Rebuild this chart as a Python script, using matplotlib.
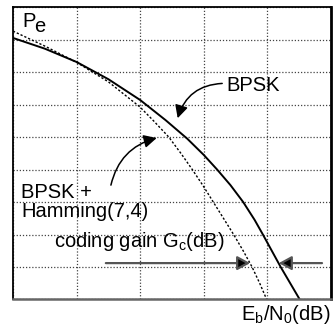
import matplotlib
matplotlib.use("Agg")
import matplotlib.pyplot as plt

plt.rcParams["font.family"] = ["Liberation Sans", "DejaVu Sans"]
plt.rcParams["mathtext.fontset"] = "custom"
plt.rcParams["mathtext.rm"] = "Liberation Sans"
plt.rcParams["mathtext.it"] = "Liberation Sans:italic"

# Courbes (unités de grille arbitraires : 5 colonnes x 9 lignes)
ebn0_bpsk = [0.0, 0.5, 1.0, 1.5, 2.0, 2.4, 2.74, 3.0, 3.21, 3.42, 3.62, 3.80, 3.93, 4.07, 4.21, 4.36, 4.51]
pe_bpsk = [8.05, 7.72, 7.31, 6.78, 6.14, 5.52, 4.95, 4.45, 4.0, 3.52, 3.0, 2.45, 2.0, 1.5, 1.0, 0.5, 0.0]

ebn0_hamming = [0.0, 0.5, 1.0, 1.5, 2.0, 2.22, 2.45, 2.64, 2.82, 2.99, 3.15, 3.31, 3.47, 3.62, 3.76, 3.88, 3.99]
pe_hamming = [8.26, 7.8, 7.3, 6.7, 5.92, 5.48, 5.0, 4.5, 4.0, 3.5, 3.0, 2.5, 2.0, 1.5, 1.0, 0.5, 0.0]

# Gain de codage mesuré à Pe constant
niveau_gain = 1.12
gain_debut = 3.73
gain_fin = 4.18

fig = plt.figure(figsize=(3.35, 3.26), dpi=100)
ax = fig.add_axes([0.0388, 0.0813, 0.949, 0.897])

ax.plot(ebn0_bpsk, pe_bpsk, color="black", linewidth=1.4)
ax.plot(ebn0_hamming, pe_hamming, color="black", linewidth=1.0, linestyle=(0, (1.6, 1.4)))

ax.set_xlim(0, 5)
ax.set_ylim(0, 9)
ax.set_xticks(range(0, 6))
ax.set_yticks(range(0, 10))
ax.tick_params(length=0, labelbottom=False, labelleft=False)
ax.grid(True, color="#444444", linestyle=(0, (1, 1.5)), linewidth=0.9)

for side in ["left", "top"]:
    ax.spines[side].set_linewidth(1.3)
ax.spines["right"].set_linewidth(2.0)
ax.spines["bottom"].set_color("#666666")
ax.spines["bottom"].set_linewidth(1.8)

fs = 14.5
ax.text(0.15, 8.38, "P", fontsize=fs, ha="left", va="baseline")
ax.text(0.34, 8.23, "e", fontsize=fs, ha="left", va="baseline")
ax.text(3.36, 6.42, "BPSK", fontsize=fs, ha="left", va="baseline")
ax.text(0.13, 3.12, "BPSK +", fontsize=fs, ha="left", va="baseline")
ax.text(0.13, 2.55, "Hamming(7,4)", fontsize=fs, ha="left", va="baseline")
ax.text(0.64, 1.61, r"coding gain G$_\mathrm{c}$(dB)", fontsize=fs, ha="left", va="baseline")
ax.text(0.997, -0.07, r"E$_\mathrm{b}$/N$_\mathrm{0}$(dB)", fontsize=fs, ha="right", va="baseline",
        transform=ax.transAxes)

fleche = dict(arrowstyle="-|>,head_length=0.55,head_width=0.28", color="black", lw=1.1,
              shrinkA=0, shrinkB=0, mutation_scale=14)
ax.annotate("", xy=(2.59, 5.58), xytext=(3.29, 6.65),
            arrowprops=dict(fleche, connectionstyle="arc3,rad=0.35"))
ax.annotate("", xy=(2.26, 4.97), xytext=(1.54, 3.52),
            arrowprops=dict(fleche, connectionstyle="arc3,rad=-0.3"))

# flèches horizontales du gain de codage
gris = dict(arrowstyle="-|>,head_length=0.55,head_width=0.3", color="#555555", lw=1.6,
            shrinkA=0, shrinkB=0, mutation_scale=14)
ax.annotate("", xy=(gain_debut, niveau_gain), xytext=(1.46, niveau_gain),
            arrowprops=dict(gris, fc="black", ec="#555555"))
ax.annotate("", xy=(gain_fin, niveau_gain), xytext=(4.86, niveau_gain),
            arrowprops=dict(gris, fc="black", ec="#555555"))

fig.savefig("out.png", dpi=100)
